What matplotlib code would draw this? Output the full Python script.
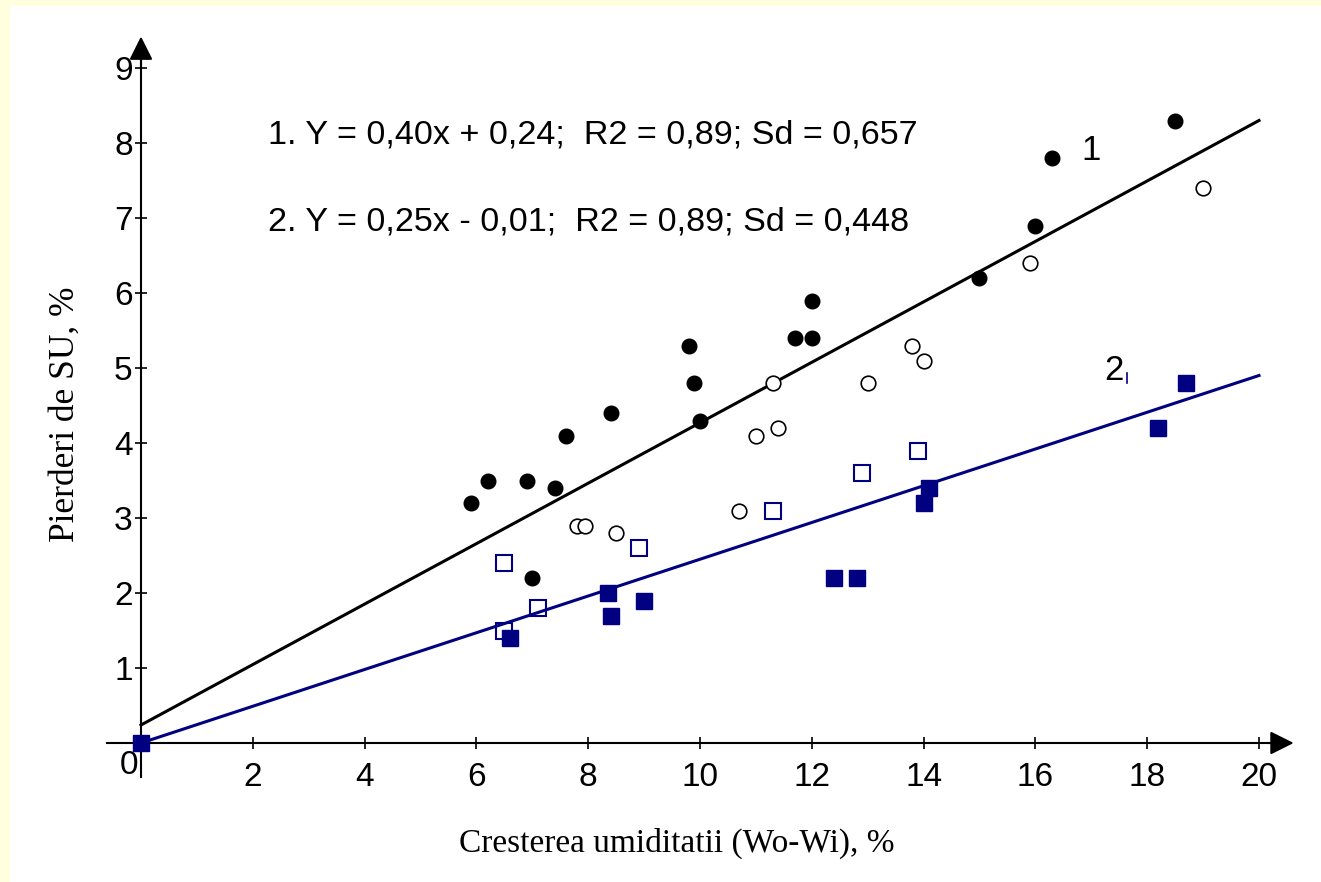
import matplotlib
matplotlib.use("Agg")
import matplotlib.pyplot as plt
from matplotlib.patches import Rectangle

# ---- data ----
s1_filled_x = [5.9, 6.2, 6.9, 7.4, 7.6, 7.0, 8.4, 9.8, 9.9, 10.0, 11.7, 12.0, 12.0, 15.0, 16.0, 16.3, 18.5]
s1_filled_y = [3.2, 3.5, 3.5, 3.4, 4.1, 2.2, 4.4, 5.3, 4.8, 4.3, 5.4, 5.4, 5.9, 6.2, 6.9, 7.8, 8.3]

s1_open_x = [7.8, 7.95, 8.5, 10.7, 11.0, 11.3, 11.4, 13.0, 13.8, 14.0, 15.9, 19.0]
s1_open_y = [2.9, 2.9, 2.8, 3.1, 4.1, 4.8, 4.2, 4.8, 5.3, 5.1, 6.4, 7.4]

s2_open_x = [6.5, 6.5, 7.1, 8.9, 11.3, 12.9, 13.9]
s2_open_y = [2.4, 1.5, 1.8, 2.6, 3.1, 3.6, 3.9]

s2_filled_x = [0.0, 6.6, 8.35, 8.4, 9.0, 12.4, 12.8, 14.0, 14.1, 18.2, 18.7]
s2_filled_y = [0.0, 1.4, 2.0, 1.7, 1.9, 2.2, 2.2, 3.2, 3.4, 4.2, 4.8]

line1_x = [0, 20]
line1_y = [0.24, 8.3]
line2_x = [0, 20]
line2_y = [0.0, 4.9]

x_ticks = [2, 4, 6, 8, 10, 12, 14, 16, 18, 20]
y_ticks = [1, 2, 3, 4, 5, 6, 7, 8, 9]

eq1 = "1. Y = 0,40x + 0,24;  R2 = 0,89; Sd = 0,657"
eq2 = "2. Y = 0,25x - 0,01;  R2 = 0,89; Sd = 0,448"
xlabel = "Cresterea umiditatii (Wo-Wi), %"
ylabel = "Pierderi de SU, %"

NAVY = "#000080"
SANS = ["Liberation Sans", "DejaVu Sans"]
SERIF = ["Liberation Serif", "DejaVu Serif"]

W, H = 1321, 882
fig = plt.figure(figsize=(W / 100, H / 100), dpi=100)
fig.patch.set_facecolor("#FFFFE0")
fig.patches.append(Rectangle((10 / W, 0), 1 - 10 / W, 1 - 6 / H, transform=fig.transFigure,
                             facecolor="white", edgecolor="none", zorder=-10))

# data -> pixel: px = 141 + 55.9*x ; py(top) = 743 - 75*y
x0, sx = 141.0, 55.9
y0, sy = 743.0, 75.0
xlim = (-1.5, 21.0)
ylim = (-1.2, 9.8)
left = (x0 + sx * xlim[0]) / W
right = (x0 + sx * xlim[1]) / W
bottom = (H - (y0 - sy * ylim[0])) / H
top = (H - (y0 - sy * ylim[1])) / H
ax = fig.add_axes([left, bottom, right - left, top - bottom], zorder=5)
ax.set_xlim(*xlim)
ax.set_ylim(*ylim)
ax.patch.set_alpha(0)

for s in ["top", "right"]:
    ax.spines[s].set_visible(False)
ax.spines["left"].set_position(("data", 0))
ax.spines["bottom"].set_position(("data", 0))
ax.spines["left"].set_bounds(-0.45, 9.2)
ax.spines["bottom"].set_bounds(-0.61, 20.3)
for s in ["left", "bottom"]:
    ax.spines[s].set_linewidth(1.5)

ax.set_xticks(x_ticks)
ax.set_yticks(y_ticks)
ax.tick_params(axis="both", direction="inout", length=8, width=1.2, labelsize=24,
               colors="black")
ax.tick_params(axis="x", pad=10)
ax.tick_params(axis="y", pad=2)
for lab in ax.get_xticklabels() + ax.get_yticklabels():
    lab.set_family(SANS)
    lab.set_fontweight("light")

# arrows
ax.annotate("", xy=(0, 9.42), xytext=(0, 9.0),
            arrowprops=dict(arrowstyle="-|>", color="black", lw=1.5,
                            mutation_scale=36, shrinkA=0, shrinkB=0))
ax.annotate("", xy=(20.62, 0), xytext=(20.15, 0),
            arrowprops=dict(arrowstyle="-|>", color="black", lw=1.5,
                            mutation_scale=36, shrinkA=0, shrinkB=0))

# origin label
ax.text(-0.22, -0.3, "0", fontsize=24, family=SANS, ha="center", va="center")

# regression lines
ax.plot(line1_x, line1_y, color="black", lw=2.2, zorder=3)
ax.plot(line2_x, line2_y, color=NAVY, lw=2.2, zorder=3)

# points
ax.plot(s1_filled_x, s1_filled_y, "o", color="black", ms=10.5, zorder=4)
ax.plot(s1_open_x, s1_open_y, "o", mfc="white", mec="black", mew=1.2, ms=10.5, zorder=4)
ax.plot(s2_open_x, s2_open_y, "s", mfc="none", mec=NAVY, mew=1.5, ms=11, zorder=4)
ax.plot(s2_filled_x, s2_filled_y, "s", color=NAVY, ms=11.5, zorder=5)

# equations and line labels
ax.text(2.27, 8.1, eq1, fontsize=24.6, family=SANS, va="center", ha="left")
ax.text(2.27, 6.95, eq2, fontsize=24.6, family=SANS, va="center", ha="left")
ax.text(17.0, 7.9, "1", fontsize=25, family=SANS, va="center", ha="center")
ax.text(17.4, 4.97, "2", fontsize=25, family=SANS, va="center", ha="center")
ax.plot([17.64, 17.64], [4.8, 4.93], color=NAVY, lw=1.2)

# axis labels
fig.text(677 / W, 1 - 843 / H, xlabel, fontsize=24, family=SERIF, ha="center", va="center")
fig.text(65 / W, 1 - 414 / H, ylabel, fontsize=25.5, family=SERIF, ha="center", va="center",
         rotation=90)

fig.savefig("out.png", dpi=100, facecolor=fig.get_facecolor())
